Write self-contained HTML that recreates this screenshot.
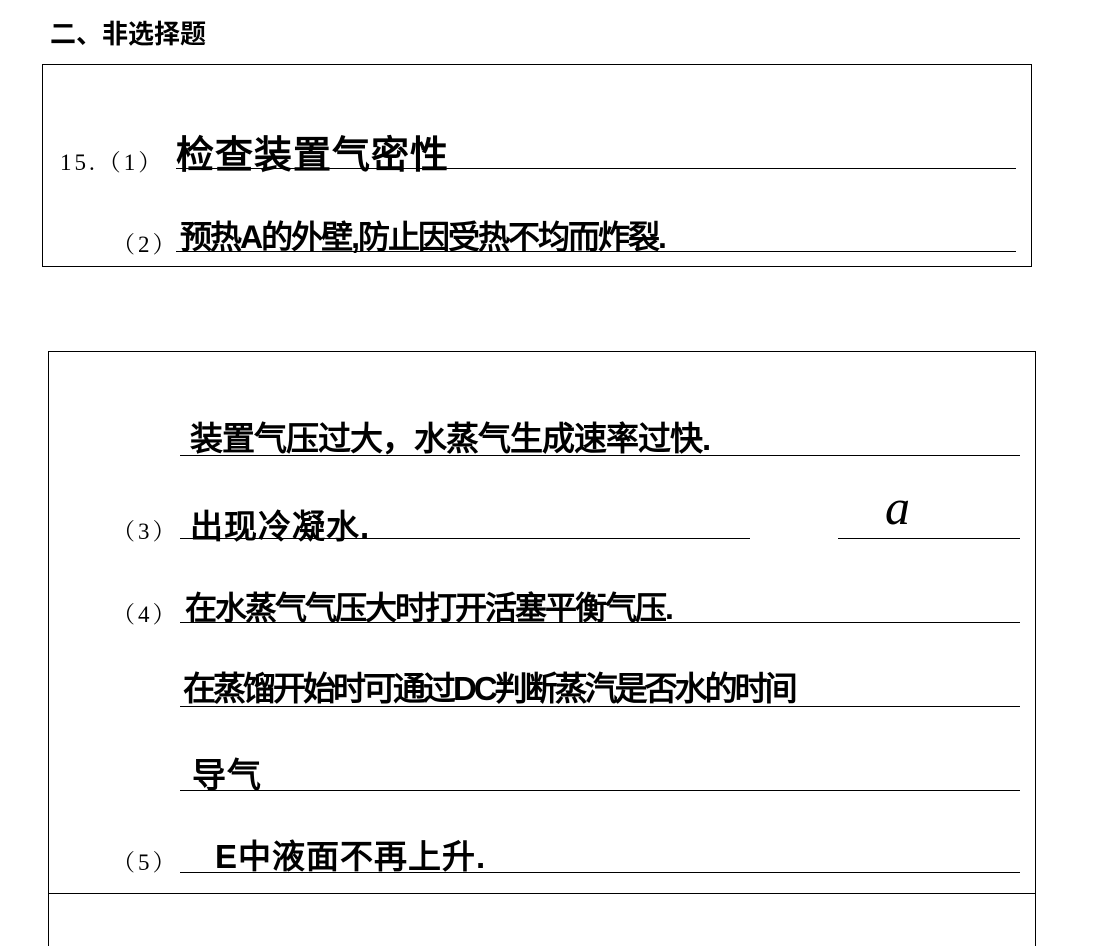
<!DOCTYPE html>
<html style="margin:0;width:1093px;height:946px;overflow:hidden"><head><meta charset="utf-8">
<style>
body{margin:0;width:1093px;height:946px;background:#fff;position:relative;overflow:hidden;font-family:"Liberation Serif","Noto Serif CJK SC",serif;color:#000}
.a{position:absolute;white-space:nowrap}
.box{position:absolute;border:1.5px solid #000;box-sizing:border-box}
.ln{position:absolute;height:0;border-top:1.5px solid #000}
.h{font-family:"Liberation Sans","WenQuanYi Zen Hei",sans-serif;font-size:34px;letter-spacing:1px;font-weight:bold}
.p{font-size:23px;letter-spacing:3px}
</style></head><body>
<div class="a" style="left:50px;top:14px;font-size:26px;font-weight:bold;font-family:'Liberation Sans','Noto Sans CJK SC',sans-serif">二、非选择题</div>
<div class="box" style="left:42px;top:64px;width:990px;height:203px"></div>
<div class="a p" style="left:60px;top:144px">15.（1）</div>
<div class="a h" style="left:176px;top:124px;font-size:38px">检查装置气密性</div>
<div class="ln" style="left:176px;top:168px;width:840px"></div>
<div class="a p" style="left:112px;top:226px">（2）</div>
<div class="a h" style="left:180px;top:212px;font-size:32px;letter-spacing:-2px">预热A的外壁,防止因受热不均而炸裂.</div>
<div class="ln" style="left:176px;top:251px;width:840px"></div>

<div class="box" style="left:48px;top:351px;width:988px;height:610px"></div>
<div class="ln" style="left:48px;top:893px;width:988px"></div>
<div class="a h" style="left:190px;top:412px;font-size:33px;letter-spacing:-1px">装置气压过大，水蒸气生成速率过快.</div>
<div class="ln" style="left:180px;top:455px;width:840px"></div>
<div class="a p" style="left:112px;top:513px">（3）</div>
<div class="a h" style="left:190px;top:500px;font-size:33px">出现冷凝水.</div>
<div class="ln" style="left:180px;top:538px;width:570px"></div>
<div class="a" style="left:885px;top:478px;font-size:50px;font-style:italic;font-family:'Liberation Serif',serif">a</div>
<div class="ln" style="left:838px;top:538px;width:182px"></div>
<div class="a p" style="left:112px;top:596px">（4）</div>
<div class="a h" style="left:185px;top:583px;font-size:32px;letter-spacing:-2px">在水蒸气气压大时打开活塞平衡气压.</div>
<div class="ln" style="left:180px;top:622px;width:840px"></div>
<div class="a h" style="left:183px;top:662px;font-size:33px;letter-spacing:-3px">在蒸馏开始时可通过DC判断蒸汽是否水的时间</div>
<div class="ln" style="left:180px;top:706px;width:840px"></div>
<div class="a h" style="left:192px;top:748px;font-size:34px">导气</div>
<div class="ln" style="left:180px;top:790px;width:840px"></div>
<div class="a p" style="left:112px;top:844px">（5）</div>
<div class="a h" style="left:215px;top:830px;font-size:33px">E中液面不再上升.</div>
<div class="ln" style="left:180px;top:872px;width:840px"></div>
</body></html>
